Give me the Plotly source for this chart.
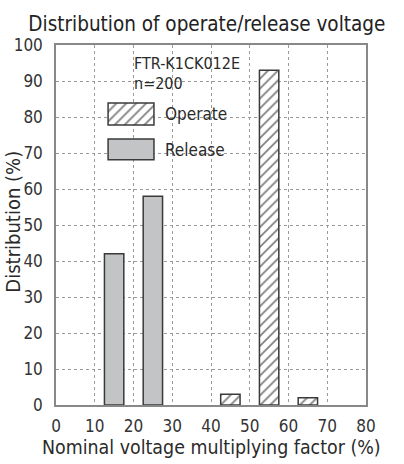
import plotly.graph_objects as go

# ---- data ----
operate_x = [45, 55, 65]
operate_y = [3, 93, 2]
release_x = [15, 25]
release_y = [42, 58]
bar_width = 5
x_ticks = [0, 10, 20, 30, 40, 50, 60, 70, 80]
y_ticks = [0, 10, 20, 30, 40, 50, 60, 70, 80, 90, 100]

FONT = "DejaVu Sans Condensed, Roboto, sans-serif"
TXT = "#2a2a2a"
EDGE = "#3a3a3a"
GREY = "#c2c4c6"

fig = go.Figure()

hatch = dict(shape="/", size=7, solidity=0.25, fgcolor="#000000", bgcolor="white")

fig.add_trace(go.Bar(
    x=release_x, y=release_y, width=bar_width, name="Release",
    marker=dict(color=GREY, line=dict(color=EDGE, width=1.5)),
    showlegend=False,
))
fig.add_trace(go.Bar(
    x=operate_x, y=operate_y, width=bar_width, name="Operate",
    marker=dict(color="white", line=dict(color=EDGE, width=1.5), pattern=hatch),
    showlegend=False,
))

# legend key swatches drawn on an invisible overlay axis (fractions of plot area)
fig.add_trace(go.Bar(
    x=[0.242], y=[0.061], base=[0.778], width=[0.148], xaxis="x2", yaxis="y2",
    marker=dict(color="white", line=dict(color=EDGE, width=1.5), pattern=hatch),
    showlegend=False, hoverinfo="skip",
))
fig.add_trace(go.Bar(
    x=[0.242], y=[0.058], base=[0.681], width=[0.148], xaxis="x2", yaxis="y2",
    marker=dict(color=GREY, line=dict(color=EDGE, width=1.5)),
    showlegend=False, hoverinfo="skip",
))

# white masks behind the annotation/legend text (hide gridlines there)
masks = [
    dict(x0=0.042, x1=0.594, y0=0.908, y1=0.983),
    dict(x0=0.042, x1=0.355, y0=0.875, y1=0.908),
    dict(x0=0.152, x1=0.568, y0=0.667, y1=0.836),
]
shapes = [dict(type="rect", xref="paper", yref="paper", layer="between",
               fillcolor="white", line=dict(width=0), **m) for m in masks]

annotations = [
    dict(text="FTR-K1CK012E", xref="paper", yref="paper", x=0.245, y=0.948,
         xanchor="left", yanchor="middle", showarrow=False,
         font=dict(family=FONT, size=16, color=TXT)),
    dict(text="n=200", xref="paper", yref="paper", x=0.245, y=0.893,
         xanchor="left", yanchor="middle", showarrow=False,
         font=dict(family=FONT, size=16, color=TXT)),
    dict(text="Operate", xref="paper", yref="paper", x=0.345, y=0.808,
         xanchor="left", yanchor="middle", showarrow=False,
         font=dict(family=FONT, size=17, color=TXT)),
    dict(text="Release", xref="paper", yref="paper", x=0.345, y=0.708,
         xanchor="left", yanchor="middle", showarrow=False,
         font=dict(family=FONT, size=17, color=TXT)),
    dict(text="Distribution (%)", xref="paper", yref="paper", x=-0.137, y=0.508,
         xanchor="center", yanchor="middle", textangle=-90, showarrow=False,
         font=dict(family=FONT, size=20, color=TXT)),
    dict(text="Nominal voltage multiplying factor (%)", xref="paper", yref="paper",
         x=0.5, y=-0.117, xanchor="center", yanchor="middle", showarrow=False,
         font=dict(family=FONT, size=19.4, color=TXT)),
]

axis_common = dict(
    showline=True, mirror=True, linecolor="#888888", linewidth=1.5,
    showgrid=True, gridcolor="#9a9a9a", gridwidth=1, griddash="dot",
    zeroline=False, ticks="", automargin=False,
    tickfont=dict(family=FONT, size=17, color="#333333"),
)

fig.update_layout(
    width=404, height=464,
    margin=dict(l=56, r=38, t=45, b=59, autoexpand=False),
    plot_bgcolor="white", paper_bgcolor="white",
    barmode="overlay",
    title=dict(text="Distribution of operate/release voltage",
               x=0.512, xanchor="center", y=0.949, yanchor="middle",
               font=dict(family=FONT, size=20.5, color="#222222")),
    xaxis=dict(range=[0, 80], tickvals=x_ticks, ticklabelstandoff=5, **axis_common),
    yaxis=dict(range=[0, 100], tickvals=y_ticks, ticklabelstandoff=8, **axis_common),
    xaxis2=dict(overlaying="x", range=[0, 1], visible=False),
    yaxis2=dict(overlaying="y", range=[0, 1], visible=False),
    shapes=shapes,
    annotations=annotations,
)

# remove the browser's default 8px body margin so the figure fills the window
fig.write_html("out.html", config={"displayModeBar": False},
               post_script="document.body.style.margin='0';")
